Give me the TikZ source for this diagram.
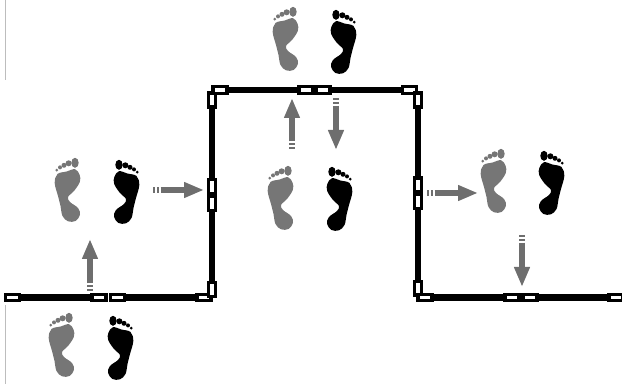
\documentclass[tikz,border=0pt]{standalone}
\usepackage{xcolor}
\usetikzlibrary{arrows.meta,backgrounds}
\definecolor{footgray}{HTML}{767676}
\definecolor{arrowgray}{HTML}{6E6E6E}
\definecolor{edgegray}{HTML}{BDBDBD}
\begin{document}
\begin{tikzpicture}[
  x=0.75pt,y=-0.75pt,
  wall/.style={draw=black,line width=4.8pt},
  door/.style={draw=black,fill=white,line width=2.3pt,minimum width=10.5pt,
               minimum height=4.6pt,inner sep=0pt,outer sep=0pt},
  vdoor/.style={door,minimum width=4.6pt,minimum height=10.5pt},
  arr/.style={-{Triangle[length=15pt,width=11pt]},draw=arrowgray,line width=4.5pt},
  tailmark/.style={draw=arrowgray,line width=4.5pt,dash pattern=on 1.7pt off 1.2pt},
  edge/.style={draw=edgegray,line width=0.6pt},
  pics/foot/.style={code={
    \fill[#1] plot[smooth cycle,tension=0.6] coordinates {
      (2.5,16) (11.7,13.5) (20,11.2) (24.6,16.7) (24.8,24) (19,33) (13,39)
      (15,44) (23,50) (25,56.7) (20.5,63) (13,63.3) (7.5,58)
      (5.5,48) (3,38) (-0.3,25)};
    \fill[#1] (20,4.8) ellipse [x radius=3.7,y radius=5];
    \fill[#1] (13.6,5.3) circle (3);
    \fill[#1] (9,7.3) circle (2.5);
    \fill[#1] (5,9.4) circle (2);
    \fill[#1] (1.8,12.2) circle (1.5);
  }}
]
\useasboundingbox (0,0) rectangle (622,384);
% outer edge of the scan
\coordinate (e1) at (5,0);
\coordinate (e2) at (5,80);
\coordinate (e3) at (5,305);
\coordinate (e4) at (5,384);
\draw[edge] (e1) -- (e2);
\draw[edge] (e3) -- (e4);
% doors
\node[door] (a) at (12.5,297.5) {};
\node[door] (b) at (99,297.5) {};
\node[door] (c) at (117.5,297.5) {};
\node[door] (d) at (204,297.5) {};
\node[vdoor] (e) at (212,289.5) {};
\node[vdoor] (f) at (212,186.5) {};
\node[vdoor] (g) at (212,203.5) {};
\node[vdoor] (h) at (212,100) {};
\node[door] (i) at (220,90) {};
\node[door] (j) at (306,90) {};
\node[door] (k) at (323,90) {};
\node[door] (l) at (409.5,90) {};
\node[vdoor] (m) at (418,100) {};
\node[vdoor] (n) at (418,185) {};
\node[vdoor] (o) at (418,201.5) {};
\node[vdoor] (p) at (418,288.5) {};
\node[door] (q) at (425,297.5) {};
\node[door] (r) at (512,297.5) {};
\node[door] (s) at (530,297.5) {};
\node[door] (t) at (616,297.5) {};
% walls
\begin{scope}[on background layer]
\draw[wall] (a) -- (b);
\draw[wall] (c) -- (d);
\draw[wall] (e) -- (g);
\draw[wall] (f) -- (h);
\draw[wall] (i) -- (j);
\draw[wall] (k) -- (l);
\draw[wall] (m) -- (n);
\draw[wall] (o) -- (p);
\draw[wall] (q) -- (r);
\draw[wall] (s) -- (t);
\end{scope}
% arrows
\coordinate (u1) at (90,291);
\coordinate (u2) at (90,282);
\coordinate (u3) at (90,239);
\draw[tailmark] (u1) -- (u2);
\draw[arr] (u2) -- (u3);
\coordinate (v1) at (153,190);
\coordinate (v2) at (163,190);
\coordinate (v3) at (204,190);
\draw[tailmark] (v1) -- (v2);
\draw[arr] (v2) -- (v3);
\coordinate (w1) at (292,149);
\coordinate (w2) at (292,139);
\coordinate (w3) at (292,98);
\draw[tailmark] (w1) -- (w2);
\draw[arr] (w2) -- (w3);
\coordinate (x1) at (336,98);
\coordinate (x2) at (336,108);
\coordinate (x3) at (336,150);
\draw[tailmark] (x1) -- (x2);
\draw[arr] (x2) -- (x3);
\coordinate (y1) at (427,193);
\coordinate (y2) at (437,193);
\coordinate (y3) at (478,193);
\draw[tailmark] (y1) -- (y2);
\draw[arr] (y2) -- (y3);
\coordinate (z1) at (522,235);
\coordinate (z2) at (522,245);
\coordinate (z3) at (522,287);
\draw[tailmark] (z1) -- (z2);
\draw[arr] (z2) -- (z3);
% feet
\pic at (49,313) {foot=footgray};
\pic[xscale=-1] at (133,316) {foot=black};
\pic at (55,158) {foot=footgray};
\pic[xscale=-1] at (139,160) {foot=black};
\pic at (268,166) {foot=footgray};
\pic[xscale=-1] at (352,167) {foot=black};
\pic at (273,7) {foot=footgray};
\pic[xscale=-1] at (356,10) {foot=black};
\pic at (481,149) {foot=footgray};
\pic[xscale=-1] at (564,151) {foot=black};
\end{tikzpicture}
\end{document}
